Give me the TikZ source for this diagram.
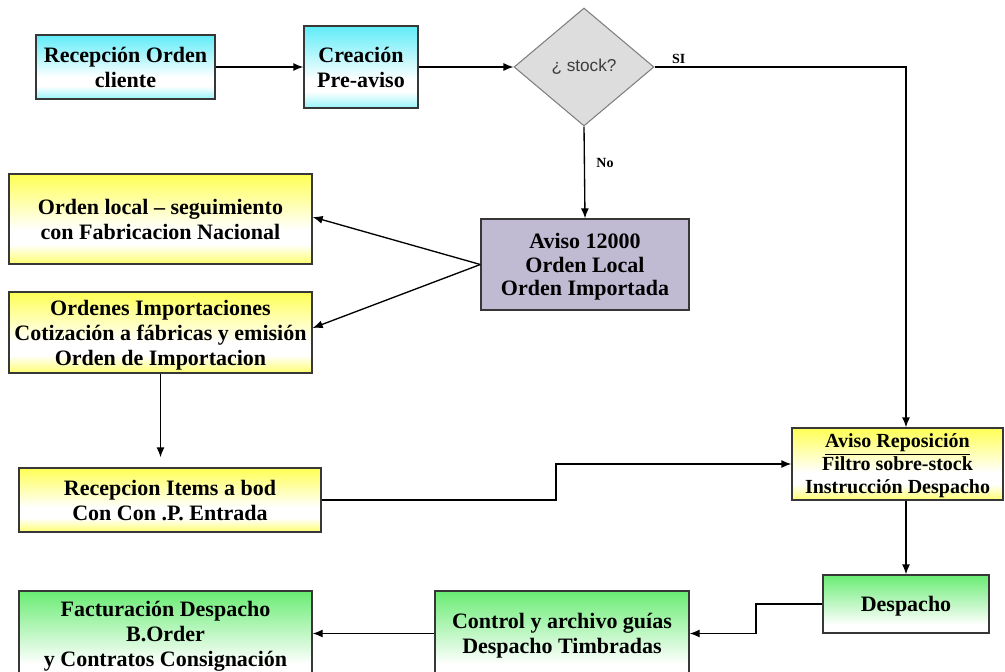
\documentclass[tikz,border=0pt]{standalone}
\usepackage{fontspec}
\setmainfont{Liberation Serif}
\newfontfamily\diafont{Liberation Sans}
\usetikzlibrary{shapes.geometric,arrows.meta,calc}

% palette
\definecolor{cyT}{RGB}{95,236,248}
\definecolor{cyB}{RGB}{150,244,250}
\definecolor{ywT}{RGB}{255,255,85}
\definecolor{ywB}{RGB}{255,255,110}
\definecolor{grT}{RGB}{105,236,115}
\definecolor{lav}{RGB}{192,186,210}
\definecolor{dmFill}{RGB}{221,221,221}
\definecolor{dmLine}{RGB}{128,128,128}
\definecolor{boxLine}{RGB}{55,55,55}
\definecolor{dmText}{RGB}{60,60,60}

% box fills: colour at the top, white low down, colour again at the bottom edge
\pgfdeclareverticalshading{cyanbar}{100bp}{color(0bp)=(cyB); color(25bp)=(cyB); color(35bp)=(white); color(42bp)=(white); color(75bp)=(cyT); color(100bp)=(cyT)}
\pgfdeclareverticalshading{yellowbar}{100bp}{color(0bp)=(ywB); color(25bp)=(ywB); color(36bp)=(white); color(44bp)=(white); color(75bp)=(ywT); color(100bp)=(ywT)}
\pgfdeclareverticalshading{greenbar}{100bp}{color(0bp)=(white); color(25bp)=(white); color(32bp)=(white); color(75bp)=(grT); color(100bp)=(grT)}

\begin{document}
\begin{tikzpicture}[x=0.75pt,y=-0.75pt,
  sz/.style 2 args={minimum width=#1*0.75pt, minimum height=#2*0.75pt},
  box/.style={draw=boxLine, line width=1pt, inner sep=0pt, align=center, text depth=-3pt,
    font=\bfseries\fontsize{16.5}{18.75}\selectfont},
  cybox/.style={box, shading=cyanbar},
  ybox/.style={box, shading=yellowbar},
  gbox/.style={box, shading=greenbar},
  lvbox/.style={box, fill=lav},
  decision/.style={diamond, draw=dmLine, fill=dmFill, line width=0.8pt, inner sep=0pt,
    text=dmText, font=\diafont\fontsize{12.9}{14}\selectfont},
  lbl/.style={font=\bfseries\fontsize{10.5}{12}\selectfont, inner sep=0pt},
  arr/.style={draw=black, line width=1pt, -{Latex[length=7.5pt,width=6pt]}}]

\clip (0,0) rectangle (1005,671);

% process steps
\node[cybox, sz={179}{64}] (rec) at (125.5,67) {Recepción Orden\\cliente};
\node[cybox, sz={114}{82}] (cre) at (361,67) {Creación\\Pre-aviso};
\node[decision, sz={140}{118}] (stk) at (584,67) {¿ stock?};
\node[lvbox, sz={208}{91}, font=\bfseries\fontsize{16.5}{17.6}\selectfont] (avi) at (585,264.5)
  {Aviso 12000\\Orden Local\\Orden Importada};
\node[ybox, sz={303}{90}] (loc) at (160.5,219) {Orden local – seguimiento\\con Fabricacion Nacional};
\node[ybox, sz={303}{81}] (imp) at (160.5,332.5) {Ordenes Importaciones\\Cotización a fábricas y emisión\\Orden de Importacion};
\node[ybox, sz={302}{64}] (rib) at (170,500) {Recepcion Items a bod\\Con Con .P. Entrada};
\node[ybox, sz={211}{72}, font=\bfseries\fontsize{15}{17.25}\selectfont] (rep) at (897.5,464)
  {\underline{Aviso Reposición}\\Filtro sobre-stock\\Instrucción Despacho};
\node[gbox, sz={166}{58}] (des) at (906,604) {Despacho};
\node[gbox, sz={254}{85}] (ctl) at (562,633.5) {Control y archivo guías\\Despacho Timbradas};
\node[gbox, sz={293}{85}] (fac) at (165.5,633.5) {Facturación Despacho\\B.Order\\y Contratos Consignación};

% routing columns
\coordinate (xr) at (906,0);
\coordinate (k1) at (556,0);
\coordinate (k2) at (756,0);

% connectors
\draw[arr] (rec.east) -- (cre.west);
\draw[arr] (cre.east) -- (stk.west);
\draw[arr] (stk.south) -- node[lbl, pos=0.4, anchor=west, xshift=8.5pt] {No} (avi.north);
\draw[arr] (stk.east) -| node[lbl, pos=0.048, anchor=south, yshift=2pt] {SI} (rep.north -| xr);
\draw[arr] (avi.west) -- ($(loc.east)+(0,-2)$);
\draw[arr] (avi.west) -- ($(imp.east)+(0,-4.5)$);
\draw[arr] (imp.south) -- ($(rib.north -| imp.south)+(0,-10)$);
\draw[arr] (rib.east) -- (rib.east -| k1) |- (rep.west);
\draw[arr] (rep.south -| xr) -- (des.north);
\draw[arr] (des.west) -- (des.west -| k2) |- (ctl.east);
\draw[arr] (ctl.west) -- (fac.east);
\end{tikzpicture}
\end{document}
